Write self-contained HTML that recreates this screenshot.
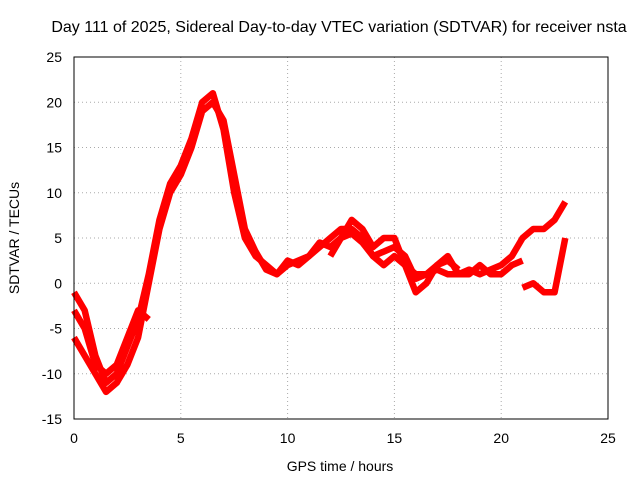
<!DOCTYPE html>
<html><head><meta charset="utf-8"><style>
body{margin:0;background:#fff;}
svg{display:block;font-family:"Liberation Sans",sans-serif;}
</style></head><body>
<svg id="chart" width="640" height="480">
<text x="339" y="32" font-size="16" text-anchor="middle">Day 111 of 2025, Sidereal Day-to-day VTEC variation (SDTVAR) for receiver nsta</text>
<text x="340" y="471" font-size="14" text-anchor="middle">GPS time / hours</text>
<text x="19" y="238" font-size="14" text-anchor="middle" transform="rotate(-90 19 238)">SDTVAR / TECUs</text>
<g id="grid"></g>
<g id="series"></g>
<rect x="74" y="57" width="534" height="362" fill="none" stroke="#000"/>
</svg>
<script>
const xTicks=[0,5,10,15,20,25];
const yTicks=[-15,-10,-5,0,5,10,15,20,25];
const s1x=[0,0.5,1,1.5,2,2.5,3,3.5,4,4.5,5,5.5,6,6.5,7,7.5,8,8.5,9,9.5,10,10.5,11,11.5,12,12.5,13,13.5,14,14.5,15,15.5,16,16.5,17,17.5,18,18.5,19,19.5,20,20.5,21,21.5,22,22.5,23];
const s1y=[-1,-3,-8,-11,-10,-7,-4,1,7,11,13,16,20,21,17,10,5,3,2,1,2.5,2,3,4,5,6,6,5,3,2,3,2,1,1,1.5,1,1,1.5,1,1.5,2,3,5,6,6,7,9];
const s2x=[0,0.5,1,1.5,2,2.5,3,3.5,4,4.5,5,5.5,6,6.5,7,7.5,8,8.5,9,9.5,10,10.5,11,11.5,12,12.5,13,13.5,14,14.5,15,15.5,16,16.5,17,17.5,18,18.5,19,19.5,20,20.5,21];
const s2y=[-6,-8,-10,-12,-11,-9,-6,0,6,10,12,15,19,20,18,12,6,3.5,1.5,1,2,2.5,3,4.5,4,5,7,6,4,5,5,2,-1,0,2,3,1,1,2,1,1,2,2.5];
const s3x=[0,0.5,1,1.5,2,2.5,3,3.5];
const s3y=[-3,-5,-9,-10,-9,-6,-3,-4];
const s4x=[21,21.5,22,22.5,23];
const s4y=[-0.5,0,-1,-1,5];
const s5x=[12,12.5,13,13.5,14,14.5,15,15.5,16,16.5,17,17.5,18];
const s5y=[3,5,5.5,4.5,3,3.5,4,3,0.5,1,2,2.5,1.5];
const NS="http://www.w3.org/2000/svg";
function X(v){return 74+(v/25)*534;}
function Y(v){return 57+(25-v)/40*362;}
const svg=document.getElementById('chart');
const grid=document.getElementById('grid');
xTicks.forEach(t=>{
 if(t>0&&t<25){const l=document.createElementNS(NS,'line');l.setAttribute('x1',X(t));l.setAttribute('x2',X(t));l.setAttribute('y1',57);l.setAttribute('y2',419);l.setAttribute('stroke','#aaa');l.setAttribute('stroke-dasharray','1,3');
 
 grid.appendChild(l);}
 const tx=document.createElementNS(NS,'text');tx.setAttribute('x',X(t));tx.setAttribute('y',443);tx.setAttribute('font-size','14');tx.setAttribute('text-anchor','middle');tx.textContent=t;
 
 svg.appendChild(tx);
});
yTicks.forEach(t=>{
 if(t>-15&&t<25){const l=document.createElementNS(NS,'line');l.setAttribute('x1',74);l.setAttribute('x2',608);l.setAttribute('y1',Y(t));l.setAttribute('y2',Y(t));l.setAttribute('stroke','#aaa');l.setAttribute('stroke-dasharray','1,3');
 
 grid.appendChild(l);}
 const tx=document.createElementNS(NS,'text');tx.setAttribute('x',62);tx.setAttribute('y',Y(t)+5);tx.setAttribute('font-size','14');tx.setAttribute('text-anchor','end');tx.textContent=t;
 
 svg.appendChild(tx);
});
const g=document.getElementById('series');
[[s1x,s1y],[s2x,s2y],[s3x,s3y],[s4x,s4y],[s5x,s5y]].forEach((s,i)=>{
 const p=document.createElementNS(NS,'polyline');
 p.setAttribute('points',s[0].map((x,j)=>X(x)+','+Y(s[1][j])).join(' '));
 p.setAttribute('fill','none');p.setAttribute('stroke','#f00');p.setAttribute('stroke-width','6.5');p.setAttribute('stroke-linejoin','round');
 
 
 g.appendChild(p);
});
</script>
</body></html>
